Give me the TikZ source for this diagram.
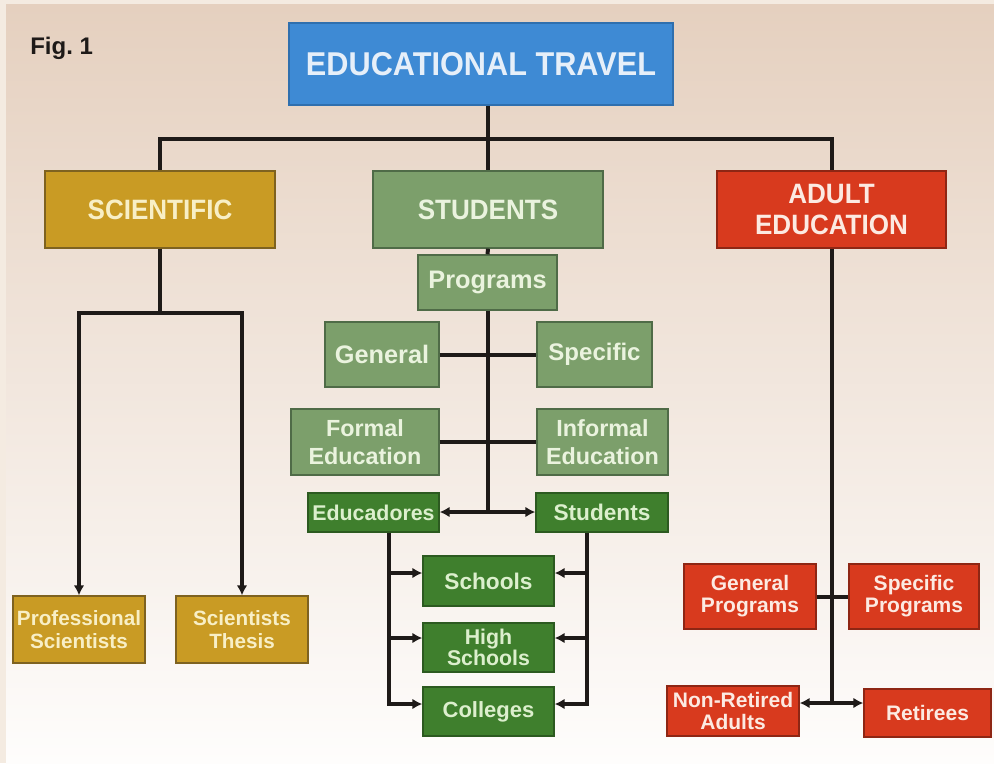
\documentclass[tikz,border=0pt]{standalone}
\usepackage{fontspec}
\setmainfont{Liberation Sans}
\newfontfamily\condsans{Liberation Sans}[FakeStretch=0.93]
\usetikzlibrary{arrows.meta,calc}

\definecolor{bgedge}{HTML}{F4EBE1}
\definecolor{bgtop}{HTML}{E5D0BF}
\definecolor{bgmid}{HTML}{F0E4DA}
\definecolor{bgbot}{HTML}{FEFDFC}
\definecolor{ink}{HTML}{1E1A18}
\definecolor{tblue}{HTML}{3E8AD4}
\definecolor{tbluedk}{HTML}{2F6FAE}
\definecolor{tbluetx}{HTML}{E6EFF9}
\definecolor{gold}{HTML}{C99B24}
\definecolor{golddk}{HTML}{7E6220}
\definecolor{goldtx}{HTML}{F8EFC6}
\definecolor{sage}{HTML}{7C9F6B}
\definecolor{sagedk}{HTML}{4F6B47}
\definecolor{sagetx}{HTML}{EAF3DE}
\definecolor{dgreen}{HTML}{3F7F2D}
\definecolor{dgreendk}{HTML}{2C5A20}
\definecolor{dgreentx}{HTML}{DCEFCD}
\definecolor{red}{HTML}{D83A1E}
\definecolor{reddk}{HTML}{8E2614}
\definecolor{redtx}{HTML}{FCEAE2}

\tikzset{
  sz/.style 2 args={minimum width=#1*0.75pt, minimum height=#2*0.75pt},
  box/.style={rectangle, draw, line width=1pt, inner sep=0pt, align=center},
  goldbox/.style={box, fill=gold, draw=golddk, text=goldtx},
  sagebox/.style={box, fill=sage, draw=sagedk, text=sagetx},
  greenbox/.style={box, fill=dgreen, draw=dgreendk, text=dgreentx},
  redbox/.style={box, fill=red, draw=reddk, text=redtx},
  headfont/.style={font=\condsans\bfseries\fontsize{21pt}{23pt}\selectfont},
  midfont/.style={font=\bfseries\fontsize{19pt}{21pt}\selectfont},
  eduFont/.style={font=\bfseries\fontsize{17.5pt}{21pt}\selectfont},
  smallfont/.style={font=\bfseries\fontsize{15.75pt}{16.5pt}\selectfont},
  conn/.style={draw=ink, line width=3pt},
  tip/.style={-{Latex[length=7.5pt,width=8pt]}}
}

\begin{document}
\begin{tikzpicture}[x=0.75pt,y=-0.75pt]
\useasboundingbox (0,0) rectangle (994,763);

% paper and soft vertical tint
\fill[bgedge] (0,0) rectangle (994,763);
\shade[top color=bgtop, middle color=bgmid, bottom color=bgbot] (6,5) rectangle (994,763);

% caption
\node[anchor=base west, inner sep=0pt, font=\bfseries\fontsize{18pt}{20pt}\selectfont, text=ink] (fig) at (30,55) {Fig.~1};

% top level
\node[box, fill=tblue, draw=tbluedk, text=tbluetx, sz={384}{82},
      font=\condsans\bfseries\fontsize{24.75pt}{26pt}\selectfont] (title) at (481,64) {EDUCATIONAL TRAVEL};

\node[goldbox, headfont, sz={230}{77}] (sci) at (160,209.5) {SCIENTIFIC};
\node[sagebox, headfont, sz={230}{77}] (stu) at (488,209.5) {STUDENTS};
\node[redbox, headfont, sz={229}{77}] (adu) at (831.5,209.5) {ADULT\\EDUCATION};

% scientific branch
\node[goldbox, sz={132}{67}, font=\bfseries\fontsize{15.5pt}{17.5pt}\selectfont] (prof) at (79,629.5) {Professional\\Scientists};
\node[goldbox, sz={132}{67}, font=\bfseries\fontsize{15.5pt}{17.5pt}\selectfont] (thesis) at (242,629.5) {Scientists\\Thesis};

% students branch
\node[sagebox, midfont, sz={139}{55}] (prog) at (487.5,282.5) {Programs};
\node[sagebox, midfont, sz={114}{65}] (gen) at (382,354.5) {General};
\node[sagebox, font=\bfseries\fontsize{18pt}{20pt}\selectfont, sz={115}{65}] (spec) at (594.5,354.5) {Specific};
\node[sagebox, eduFont, sz={148}{66}] (formal) at (365,442) {Formal\\Education};
\node[sagebox, eduFont, sz={131}{66}] (informal) at (602.5,442) {Informal\\Education};
\node[greenbox, font=\bfseries\fontsize{16pt}{17pt}\selectfont, sz={131}{39}] (educ) at (373.5,512.5) {Educadores};
\node[greenbox, font=\bfseries\fontsize{17pt}{18pt}\selectfont, sz={132}{39}] (stud) at (602,512.5) {Students};
\node[greenbox, font=\bfseries\fontsize{17pt}{18pt}\selectfont, sz={131}{50}] (schools) at (488.5,581) {Schools};
\node[greenbox, font=\bfseries\fontsize{16pt}{15.5pt}\selectfont, sz={131}{49}] (high) at (488.5,647.5) {High\\Schools};
\node[greenbox, font=\bfseries\fontsize{16.5pt}{18pt}\selectfont, sz={131}{49}] (coll) at (488.5,711.5) {Colleges};

% adult education branch
\node[redbox, smallfont, sz={132}{65}] (genp) at (750,596.5) {General\\Programs};
\node[redbox, smallfont, sz={130}{65}] (specp) at (914,596.5) {Specific\\Programs};
\node[redbox, smallfont, sz={132}{50}] (nonret) at (733,711) {Non-Retired\\Adults};
\node[redbox, smallfont, sz={127}{48}] (retir) at (927.5,713) {Retirees};

% junction points
\coordinate (topbus) at (488,139);
\coordinate (scibus) at (160,313);
\coordinate (hub) at (488,512);
\coordinate (railL) at (389,704);
\coordinate (railR) at (587,704);
\coordinate (rowA) at (0,573);
\coordinate (rowB) at (0,638);
\coordinate (adhub) at (832,703);

% top level connectors
\draw[conn] (title.south -| topbus) -- (stu.north);
\draw[conn] (sci.north) |- (topbus) -| (adu.north);

% scientific connectors
\draw[conn] (sci.south) -- (scibus);
\draw[conn, tip] (scibus) -| (prof.north);
\draw[conn, tip] (scibus) -| (thesis.north);

% students connectors
\draw[conn] (stu.south) -- (prog.north);
\draw[conn] (prog.south -| hub) -- (hub);
\draw[conn] (gen.east) -- (spec.west);
\draw[conn] (formal.east) -- (informal.west);
\draw[conn, tip] (hub) -- (educ.east |- hub);
\draw[conn, tip] (hub) -- (stud.west |- hub);

% side rails feeding the three school levels
\draw[conn, tip] (educ.south -| railL) |- (coll.west |- railL);
\draw[conn, tip] (railL |- rowA) -- (schools.west |- rowA);
\draw[conn, tip] (railL |- rowB) -- (high.west |- rowB);

\draw[conn, tip] (stud.south -| railR) |- (coll.east |- railR);
\draw[conn, tip] (railR |- rowA) -- (schools.east |- rowA);
\draw[conn, tip] (railR |- rowB) -- (high.east |- rowB);

% adult education connectors
\draw[conn] (adu.south -| adhub) -- (adhub);
\draw[conn] (genp.east) -- (specp.west);
\draw[conn, tip] (adhub) -- (nonret.east |- adhub);
\draw[conn, tip] (adhub) -- (retir.west |- adhub);
\end{tikzpicture}
\end{document}
